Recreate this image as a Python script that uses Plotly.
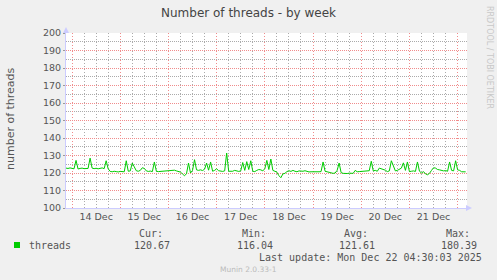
import plotly.graph_objects as go
import pandas as pd

# ---- data (hourly averages) ----
start_time = "2025-12-13 21:00"
threads = [
    122.8, 122.6, 122.9, 122.5, 122.4, 127.2, 122.3, 122.6, 122.8, 122.5,
    122.7, 122.6, 128.5, 122.8, 122.5, 122.7, 122.4, 122.6, 122.9, 122.5,
    127.0, 122.4, 120.9, 120.7, 121.0, 120.8, 120.6, 120.9, 120.8, 120.7,
    127.0, 121.0, 121.2, 125.7, 123.5, 121.3, 121.0, 121.5, 123.0, 122.6,
    121.2, 120.9, 121.1, 120.8, 126.3, 121.0, 120.8, 120.9, 120.7, 120.9,
    121.0, 121.3, 121.1, 121.4, 121.6, 121.2, 120.9, 120.5, 119.5, 118.4,
    119.6, 125.7, 120.0, 121.5, 127.6, 121.8, 121.5, 121.8, 121.4, 122.2,
    125.7, 121.6, 126.3, 121.0, 121.5, 122.4, 121.3, 121.1, 120.9, 121.2,
    131.4, 121.0, 120.8, 121.0, 121.5, 121.2, 120.9, 121.2, 126.0, 121.5,
    126.5, 122.0, 127.0, 121.0, 120.8, 121.5, 122.0, 121.8, 121.2, 122.5,
    127.2, 122.0, 128.0, 121.5, 120.8, 120.5, 118.5, 117.3, 119.5, 119.8,
    120.8, 121.3, 120.9, 121.5, 121.0, 120.7, 121.2, 120.9, 121.0, 121.3,
    120.9, 120.6, 120.7, 120.6, 120.5, 120.6, 120.7, 120.8, 126.3, 121.0,
    120.6, 120.6, 120.0, 119.8, 120.0, 121.5, 125.7, 120.2, 119.8, 119.6,
    119.7, 119.9, 120.0, 119.8, 121.5, 120.7, 120.8, 120.9, 120.7, 120.9,
    121.0, 121.3, 126.7, 121.2, 121.5, 121.0, 122.8, 122.5, 122.0, 121.6,
    120.8, 121.2, 127.0, 123.5, 121.2, 121.5, 122.0, 122.8, 125.8, 121.5,
    126.3, 120.8, 121.0, 121.2, 120.9, 126.3, 121.0, 120.0, 120.8, 119.5,
    119.0, 119.8, 121.5, 123.0, 122.8, 122.0, 121.8, 121.5, 121.2, 121.4,
    121.0, 126.3, 121.5, 121.2, 127.0, 121.8, 121.5, 120.7, 120.6, 120.67,
]
times = pd.date_range(start_time, periods=len(threads), freq="h")

x_range = ["2025-12-13 21:00", "2025-12-22 04:40"]
y_range = [100, 200]
title_text = "Number of threads - by week"
y_title = "number of threads"
series_name = "threads"
stat_labels = ["Cur:", "Min:", "Avg:", "Max:"]
stat_values = ["120.67", "116.04", "121.61", "180.39"]
last_update = "Last update: Mon Dec 22 04:30:03 2025"
footer = "Munin 2.0.33-1"
side_text = "RRDTOOL / TOBI OETIKER"

# ---- layout geometry ----
W, H = 497, 280
L, R, T, B = 66, 467, 33, 208
PW, PH = R - L, B - T


def px(x):
    return (x - L) / PW


def py(y):
    return (B - y) / PH


GREEN = "#00CC00"
MAJOR = "#F08C8C"
MINOR = "#ABABAB"
AXIS = "#CCCCFF"
TXT = "#555555"
DOT_X = "1px,2px"
DOT_Y = "1px,1px"

fig = go.Figure()
fig.add_trace(go.Scatter(x=times, y=threads, mode="lines", name=series_name,
                         line=dict(color=GREEN, width=1), hoverinfo="skip"))

fig.update_layout(
    width=W, height=H,
    margin=dict(l=L, r=W - R, t=T, b=H - B, pad=0),
    paper_bgcolor="#F0F0F0", plot_bgcolor="#FFFFFF",
    showlegend=False,
    font=dict(family="DejaVu Sans", size=10, color=TXT),
)

fig.update_xaxes(
    type="date", range=x_range,
    tick0="2025-12-14 00:00", dtick=86400000, tickformat="%d %b",
    ticklabelmode="period",
    showgrid=True, gridcolor=MAJOR, griddash=DOT_X, gridwidth=1,
    minor=dict(dtick=6 * 3600000, tick0="2025-12-14 00:00", showgrid=True,
               gridcolor=MINOR, griddash=DOT_X, gridwidth=1),
    showline=True, linecolor=AXIS, linewidth=1,
    ticks="", tickfont=dict(family="DejaVu Sans", size=9.5, color=TXT),
    zeroline=False,
)
fig.update_yaxes(
    range=y_range, dtick=10, tick0=100,
    showgrid=True, gridcolor=MAJOR, griddash=DOT_Y, gridwidth=1,
    minor=dict(dtick=5, showgrid=True, gridcolor=MINOR, griddash=DOT_Y, gridwidth=1),
    showline=True, linecolor=AXIS, linewidth=1,
    ticks="outside", ticklen=2, tickcolor="#999999",
    tickfont=dict(family="DejaVu Sans", size=9.5, color=TXT),
    zeroline=False,
)

# axis arrows
fig.add_shape(type="path", xref="paper", yref="paper",
              path=f"M {px(63)} {py(33)} L {px(69)} {py(33)} L {px(66)} {py(27)} Z",
              fillcolor=AXIS, line=dict(width=0))
fig.add_shape(type="path", xref="paper", yref="paper",
              path=f"M {px(466)} {py(205)} L {px(466)} {py(211)} L {px(472)} {py(208)} Z",
              fillcolor=AXIS, line=dict(width=0))

ann = []
ann.append(dict(text=title_text, x=px(248), y=py(13), font=dict(size=12, color="#444444")))
ann.append(dict(text=y_title, x=px(10), y=py(119), textangle=-90,
                font=dict(size=11, color=TXT)))
ann.append(dict(text=side_text, x=px(490), y=py(57), textangle=90,
                font=dict(size=8, color="#C8C8C8")))

MONO = "DejaVu Sans Mono"
ann.append(dict(text=series_name, x=px(27), y=py(245), xanchor="left",
                font=dict(family=MONO, size=10, color=TXT)))
cols = [151, 254, 356, 458]
for cx, lab, val in zip(cols, stat_labels, stat_values):
    ann.append(dict(text=lab, x=px(cx), y=py(233.5), font=dict(family=MONO, size=10, color=TXT)))
    ann.append(dict(text=val, x=px(cx + 1), y=py(245), font=dict(family=MONO, size=10, color=TXT)))
ann.append(dict(text=last_update, x=px(483.5), y=py(257.5), xanchor="right",
                font=dict(family=MONO, size=10, color=TXT)))
ann.append(dict(text=footer, x=px(248), y=py(269.5),
                font=dict(family="DejaVu Sans", size=7.5, color="#BBBBBB")))

for a in ann:
    a.setdefault("xanchor", "center")
    a.update(xref="paper", yref="paper", showarrow=False, yanchor="middle")
fig.update_layout(annotations=ann)

# legend colour square
fig.add_shape(type="rect", xref="paper", yref="paper",
              x0=px(14), x1=px(20), y0=py(242), y1=py(248),
              fillcolor=GREEN, line=dict(width=0))

fig.write_html("out.html", config={"displayModeBar": False})
